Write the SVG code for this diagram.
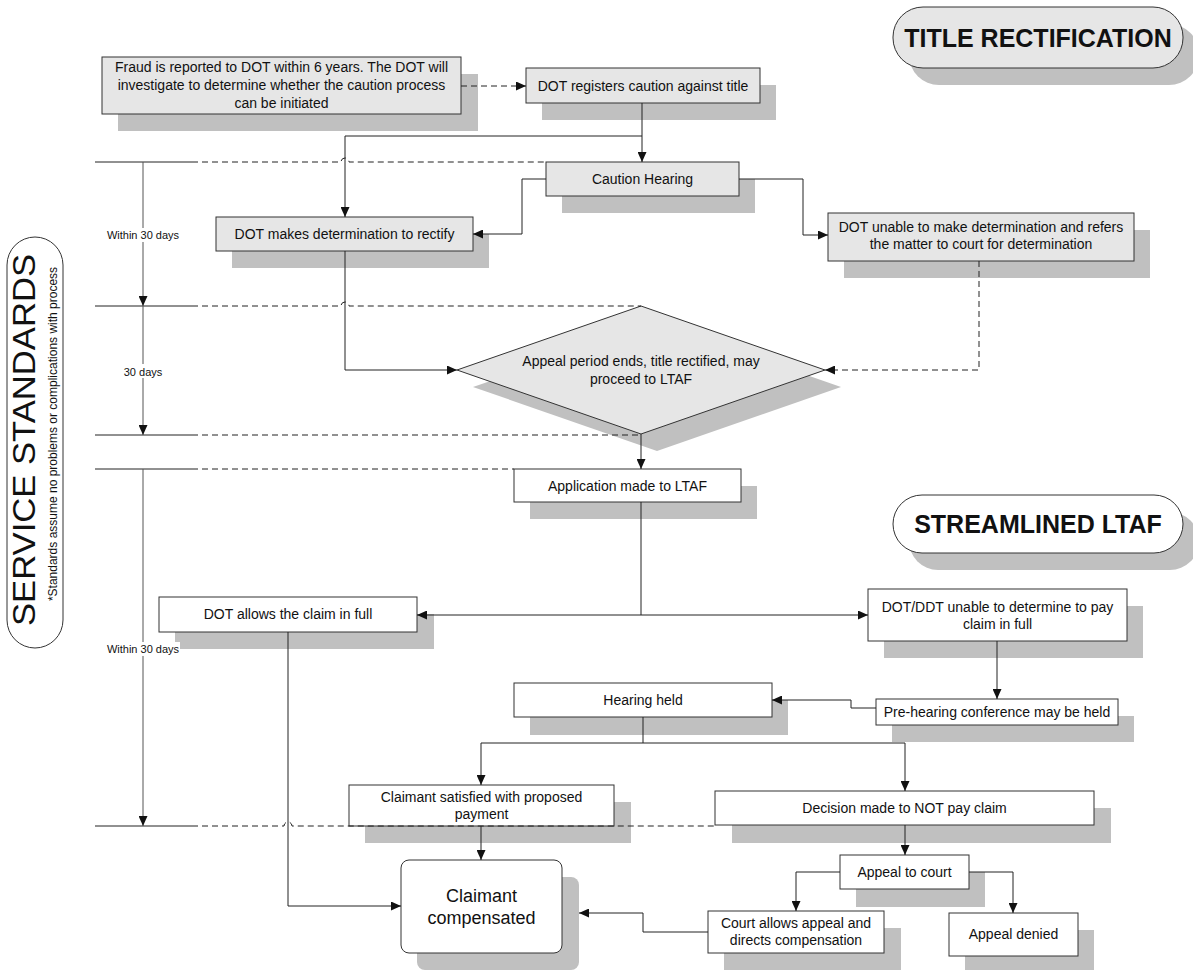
<svg xmlns="http://www.w3.org/2000/svg" width="1193" height="970" viewBox="0 0 1193 970">
<defs>
<marker id="ah" markerUnits="userSpaceOnUse" markerWidth="10" markerHeight="9" refX="10" refY="4.5" orient="auto"><path d="M0,0 L10,4.5 L0,9 z" fill="#111"/></marker>
</defs>
<style>
.b{stroke:#333;stroke-width:1}
.g{fill:#e6e6e6}
.w{fill:#fff}
.sh{fill:#c0c0c0}
.t{font-family:"Liberation Sans",Arial,sans-serif;font-size:14px;fill:#111;text-anchor:middle}
.s{font-size:11px}
.big{font-size:18px}
.ttl{font-size:25px;font-weight:bold}
.c{fill:none;stroke:#222;stroke-width:1}
.a{marker-end:url(#ah)}
.d{stroke-dasharray:6,4}
.v{fill:none;stroke:#555;stroke-width:1}
</style>
<rect width="1193" height="970" fill="#fff"/>

<g id="service-standards">
<rect x="7" y="237" width="56" height="411" rx="28" class="w b"/>
<text class="t" style="font-size:32px" transform="translate(35,440) rotate(-90)" textLength="372" lengthAdjust="spacingAndGlyphs">SERVICE STANDARDS</text>
<text class="t" style="font-size:12px" transform="translate(57,434) rotate(-90)">*Standards assume no problems or complications with process</text>
</g>

<g id="title-rectification">
<rect x="909" y="24" width="290" height="61" rx="30" class="sh"/>
<rect x="893" y="7" width="290" height="61" rx="30" class="g b"/>
<text x="1038" y="46.5" class="t ttl">TITLE RECTIFICATION</text>
</g>

<g id="streamlined-ltaf">
<rect x="909" y="512" width="290" height="58" rx="29" class="sh"/>
<rect x="893" y="495" width="290" height="58" rx="29" class="w b"/>
<text x="1038" y="533" class="t ttl">STREAMLINED LTAF</text>
</g>

<g id="fraud">
<rect x="118" y="74" width="360" height="57" class="sh"/>
<rect x="102" y="57" width="359" height="57" class="g b"/>
<text x="281.5" y="71.5" class="t">Fraud is reported to DOT within 6 years. The DOT will</text>
<text x="281.5" y="90" class="t">investigate to determine whether the caution process</text>
<text x="281.5" y="108" class="t">can be initiated</text>
</g>

<g id="dot-registers">
<rect x="542" y="85" width="234" height="35" class="sh"/>
<rect x="526" y="68" width="234" height="35" class="g b"/>
<text x="643" y="91" class="t">DOT registers caution against title</text>
</g>

<g id="caution-hearing">
<rect x="562" y="179" width="193" height="34" class="sh"/>
<rect x="546" y="162" width="193" height="34" class="g b"/>
<text x="642.5" y="184" class="t">Caution Hearing</text>
</g>

<g id="dot-makes">
<rect x="232" y="234" width="257" height="34" class="sh"/>
<rect x="216" y="217" width="257" height="34" class="g b"/>
<text x="344.5" y="239" class="t">DOT makes determination to rectify</text>
</g>

<g id="dot-unable">
<rect x="844" y="230" width="306" height="48" class="sh"/>
<rect x="828" y="213" width="306" height="48" class="g b"/>
<text x="981" y="231.5" class="t">DOT unable to make determination and refers</text>
<text x="981" y="249" class="t">the matter to court for determination</text>
</g>

<g id="appeal-period">
<polygon points="473,387 657,323 841,387 657,451" class="sh"/>
<polygon points="457,370 641,306 825,370 641,434" class="g b"/>
<text x="641" y="366" class="t">Appeal period ends, title rectified, may</text>
<text x="641" y="384" class="t">proceed to LTAF</text>
</g>

<g id="application">
<rect x="530" y="486" width="227" height="33" class="sh"/>
<rect x="514" y="469" width="227" height="33" class="w b"/>
<text x="627.5" y="491" class="t">Application made to LTAF</text>
</g>

<g id="dot-allows">
<rect x="175" y="614" width="259" height="35" class="sh"/>
<rect x="159" y="597" width="258" height="35" class="w b"/>
<text x="288" y="619" class="t">DOT allows the claim in full</text>
</g>

<g id="dot-ddt">
<rect x="884" y="606" width="259" height="52" class="sh"/>
<rect x="868" y="589" width="259" height="52" class="w b"/>
<text x="997.5" y="612" class="t">DOT/DDT unable to determine to pay</text>
<text x="997.5" y="629" class="t">claim in full</text>
</g>

<g id="pre-hearing">
<rect x="892" y="716" width="242" height="26" class="sh"/>
<rect x="876" y="699" width="242" height="26" class="w b"/>
<text x="997" y="717" class="t">Pre-hearing conference may be held</text>
</g>

<g id="hearing-held">
<rect x="530" y="700" width="258" height="35" class="sh"/>
<rect x="514" y="683" width="258" height="34" class="w b"/>
<text x="643" y="705" class="t">Hearing held</text>
</g>

<g id="claimant-satisfied">
<rect x="365" y="802" width="266" height="41" class="sh"/>
<rect x="349" y="785" width="265" height="41" class="w b"/>
<text x="481.5" y="801.5" class="t">Claimant satisfied with proposed</text>
<text x="481.5" y="819" class="t">payment</text>
</g>

<g id="decision">
<rect x="732" y="808" width="379" height="35" class="sh"/>
<rect x="715" y="791" width="379" height="34" class="w b"/>
<text x="904.5" y="813" class="t">Decision made to NOT pay claim</text>
</g>

<g id="appeal-court">
<rect x="856" y="872" width="129" height="35" class="sh"/>
<rect x="840" y="855" width="129" height="34" class="w b"/>
<text x="904.5" y="877" class="t">Appeal to court</text>
</g>

<g id="court-allows">
<rect x="724" y="928" width="177" height="42" class="sh"/>
<rect x="708" y="911" width="176" height="42" class="w b"/>
<text x="796" y="928" class="t">Court allows appeal and</text>
<text x="796" y="945" class="t">directs compensation</text>
</g>

<g id="appeal-denied">
<rect x="965" y="930" width="129" height="43" class="sh"/>
<rect x="949" y="913" width="129" height="43" class="w b"/>
<text x="1013.5" y="939" class="t">Appeal denied</text>
</g>

<g id="claimant-compensated">
<rect x="417" y="877" width="162" height="93" rx="8" class="sh"/>
<rect x="401" y="860" width="161" height="93" rx="8" class="w b"/>
<text x="481.5" y="901.5" class="t big">Claimant</text>
<text x="481.5" y="923.5" class="t big">compensated</text>
</g>

<g id="connectors">
<path d="M461,86 H526" class="c d a"/>
<path d="M642,103 V162" class="c a"/>
<path d="M642,136 H345 V217" class="c a"/>
<path d="M546,179 H522 V234 H473" class="c a"/>
<path d="M739,179 H803 V235 H828" class="c a"/>
<path d="M345,251 V370 H457" class="c a"/>
<path d="M979,261 V370 H825" class="c d a"/>
<path d="M641,434 V469" class="c a"/>
<path d="M641,502 V615" class="c"/>
<path d="M641,615 H417" class="c a"/>
<path d="M641,615 H868" class="c a"/>
<path d="M288,632 V906 H401" class="c a"/>
<path d="M997,641 V699" class="c a"/>
<path d="M876,708 H851 V700 H772" class="c a"/>
<path d="M643,717 V743" class="c"/>
<path d="M643,743 H481 V785" class="c a"/>
<path d="M643,743 H905 V791" class="c a"/>
<path d="M481,826 V860" class="c a"/>
<path d="M905,825 V855" class="c a"/>
<path d="M840,872 H796 V911" class="c a"/>
<path d="M969,872 H1013 V913" class="c a"/>
<path d="M708,932 H643 V913 H579" class="c a"/>
</g>

<g id="timeline">
<path d="M95,162 H192 M95,306 H192 M95,435 H192 M95,469 H192 M95,826 H192" class="c"/>
<path d="M192,162 H341 A4,4 0 0 1 349,162 H546" class="c d"/>
<path d="M192,306 H341 A4,4 0 0 1 349,306 H641" class="c d"/>
<path d="M192,435 H641" class="c d"/>
<path d="M192,469 H514" class="c d"/>
<path d="M192,826 H284 A4,4 0 0 1 292,826 H715" class="c d"/>
<path d="M143,162 V306" class="v a"/>
<path d="M143,306 V435" class="v a"/>
<path d="M143,469 V826" class="v a"/>
<rect x="106" y="228" width="74" height="14" fill="#fff"/>
<text x="143" y="239" class="t s">Within 30 days</text>
<rect x="121" y="364" width="44" height="14" fill="#fff"/>
<text x="143" y="375.5" class="t s">30 days</text>
<rect x="106" y="642" width="74" height="14" fill="#fff"/>
<text x="143" y="653" class="t s">Within 30 days</text>
</g>
</svg>
